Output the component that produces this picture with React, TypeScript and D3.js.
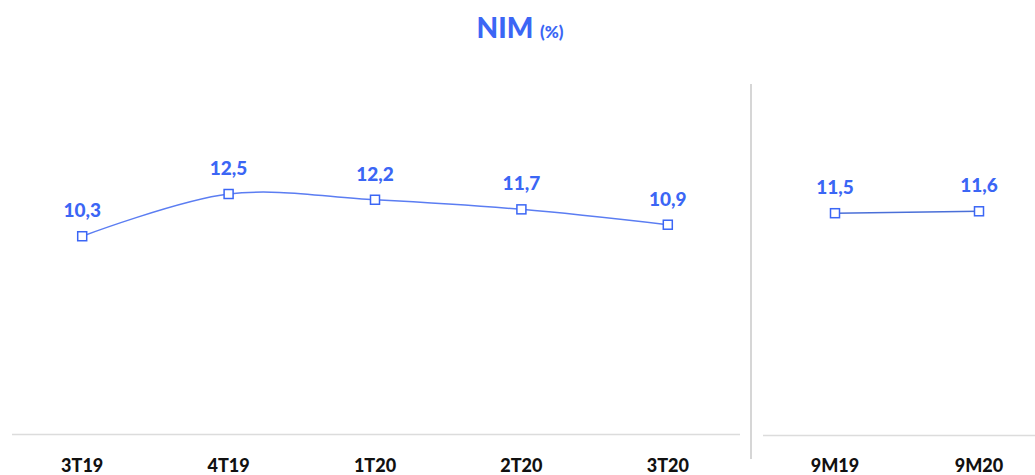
import React from "react";
import * as d3 from "d3";

const quarters = ["3T19", "4T19", "1T20", "2T20", "3T20"];
const quarterValues = [10.3, 12.5, 12.2, 11.7, 10.9];
const periods = ["9M19", "9M20"];
const periodValues = [11.5, 11.6];

const W = 1035;
const H = 475;
const BLUE = "#3b66f5";
const LINE = "#5b7df2";
const FONT = "Lato, 'Open Sans', sans-serif";

const fmt = (v: number) => v.toFixed(1).replace(".", ",");

export default function App() {
  const y = d3.scaleLinear().domain([0, 12.5]).range([434, 194]);
  const xL = d3.scaleBand<string>().domain(quarters).range([9, 741]);
  const xR = d3.scaleBand<string>().domain(periods).range([763, 1051]);

  const line = d3
    .line<[number, number]>()
    .x((d) => d[0])
    .y((d) => d[1])
    .curve(d3.curveCatmullRom.alpha(0.5));

  const leftPts: [number, number][] = quarters.map((q, i) => [
    (xL(q) ?? 0) + xL.bandwidth() / 2,
    y(quarterValues[i]),
  ]);
  const rightPts: [number, number][] = periods.map((p, i) => [
    (xR(p) ?? 0) + xR.bandwidth() / 2,
    y(periodValues[i]),
  ]);
  const lineR = d3
    .line<[number, number]>()
    .x((d) => d[0])
    .y((d) => d[1]);

  const renderPts = (pts: [number, number][], vals: number[], cats: string[]) =>
    pts.map((p, i) => (
      <g key={cats[i]}>
        <rect
          x={p[0] - 4.5}
          y={p[1] - 4.5}
          width={9}
          height={9}
          fill="#fff"
          stroke={BLUE}
          strokeWidth={1.5}
        />
        <text
          x={p[0]}
          y={p[1] - 19}
          textAnchor="middle"
          fill={BLUE}
          fontFamily={FONT}
          fontWeight={900}
          fontSize={19}
        >
          {fmt(vals[i])}
        </text>
      </g>
    ));

  return (
    <svg
      width={W}
      height={H}
      style={{ position: "absolute", left: 0, top: 0, background: "#fff" }}
    >
      <text
        x={520}
        y={38}
        textAnchor="middle"
        fill={BLUE}
        fontFamily={FONT}
        fontWeight={900}
      >
        <tspan fontSize={28}>NIM </tspan>
        <tspan fontSize={17}>(%)</tspan>
      </text>

      <line x1={12} x2={740} y1={434.5} y2={434.5} stroke="#dcdcdc" strokeWidth={1.5} />
      <line x1={763} x2={1035} y1={435.5} y2={435.5} stroke="#dcdcdc" strokeWidth={1.5} />
      <line x1={751} x2={751} y1={84} y2={459} stroke="#c8c8c8" strokeWidth={1.5} />

      <path d={line(leftPts) ?? ""} fill="none" stroke={LINE} strokeWidth={1.5} />
      <path d={lineR(rightPts) ?? ""} fill="none" stroke="#4a6fd8" strokeWidth={1.5} />

      {renderPts(leftPts, quarterValues, quarters)}
      {renderPts(rightPts, periodValues, periods)}

      {quarters.map((q) => (
        <text
          key={q}
          x={(xL(q) ?? 0) + xL.bandwidth() / 2}
          y={472}
          textAnchor="middle"
          fill="#111"
          fontFamily={FONT}
          fontWeight={900}
          fontSize={18}
        >
          {q}
        </text>
      ))}
      {periods.map((p) => (
        <text
          key={p}
          x={(xR(p) ?? 0) + xR.bandwidth() / 2}
          y={472}
          textAnchor="middle"
          fill="#111"
          fontFamily={FONT}
          fontWeight={900}
          fontSize={18}
        >
          {p}
        </text>
      ))}
    </svg>
  );
}
